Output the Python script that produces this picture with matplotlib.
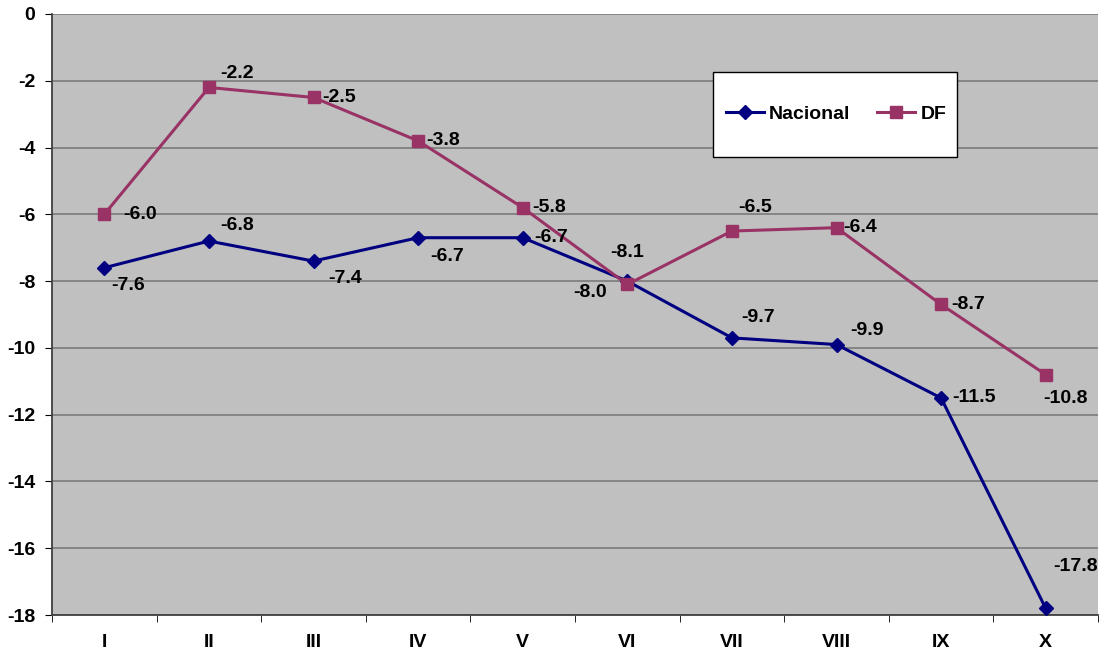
import matplotlib.pyplot as plt
from matplotlib.patches import Rectangle
import numpy as np

plt.rcParams['font.family'] = ['Liberation Sans', 'DejaVu Sans']
plt.rcParams['font.weight'] = 'bold'

meses = ["I", "II", "III", "IV", "V", "VI", "VII", "VIII", "IX", "X"]
nacional = [-7.6, -6.8, -7.4, -6.7, -6.7, -8.0, -9.7, -9.9, -11.5, -17.8]
df = [-6.0, -2.2, -2.5, -3.8, -5.8, -8.1, -6.5, -6.4, -8.7, -10.8]

# label offsets in pixels (x right, y up)
off_nac = [(24, -18), (28, 16), (32, -17), (29, -19), (28, 0),
           (-37, -11), (26, 20), (30, 14), (33, 0), (30, 42)]
off_df = [(36, 0), (28, 14), (26, 0), (25, 0), (26, 0),
          (0, 32), (23, 24), (24, 0), (27, 0), (20, -24)]

W, H = 1103, 661
fig = plt.figure(figsize=(W / 100, H / 100), dpi=100)
ax = fig.add_axes([52 / W, 46 / H, 1046 / W, 601 / H])
ax.set_facecolor("#C0C0C0")

fs = 14
x = np.arange(1, len(meses) + 1)
ax.plot(x, nacional, color="#000080", lw=2.2, marker="D", ms=7, label="Nacional", zorder=3)
ax.plot(x, df, color="#993366", lw=2.2, marker="s", ms=9, label="DF", zorder=3)

for xi, v, o in zip(x, nacional, off_nac):
    ax.annotate(f"{v:.1f}", (xi, v), xytext=o, textcoords="offset pixels",
                ha="center", va="center", fontsize=fs, fontweight="bold")
for xi, v, o in zip(x, df, off_df):
    ax.annotate(f"{v:.1f}", (xi, v), xytext=o, textcoords="offset pixels",
                ha="center", va="center", fontsize=fs, fontweight="bold")

ax.set_xlim(0.5, 10.5)
ax.set_ylim(-18, 0)
ax.set_yticks(np.arange(-18, 1, 2))
ax.set_yticklabels([str(t) for t in range(-18, 1, 2)], fontsize=fs, fontweight="bold")
ax.set_xticks(x)
ax.set_xticklabels(meses, fontsize=fs, fontweight="bold")
ax.set_xticks(np.arange(0.5, 11, 1), minor=True)
ax.tick_params(axis="x", which="major", length=0, pad=14)
ax.tick_params(axis="x", which="minor", length=5, color="black")
ax.tick_params(axis="y", length=5, color="black", pad=7)
ax.grid(axis="y", color="#808080", lw=1.3)
ax.set_axisbelow(True)
for s in ["top", "right"]:
    ax.spines[s].set_visible(False)
for s in ["left", "bottom"]:
    ax.spines[s].set_color("#404040")
    ax.spines[s].set_linewidth(1.3)

# legend box
fig.patches.append(Rectangle((713 / W, 1 - 157 / H), 244 / W, 85 / H,
                             transform=fig.transFigure, facecolor="white",
                             edgecolor="black", lw=1, zorder=5))
leg = fig.legend(*ax.get_legend_handles_labels(), loc="center",
                 bbox_to_anchor=(836 / W, 1 - 114.5 / H), ncol=2, frameon=False,
                 handlelength=1.95, handletextpad=0.26, columnspacing=1.4,
                 prop={"weight": "bold", "size": fs})
leg.set_zorder(6)

fig.savefig("out.png", dpi=100)
